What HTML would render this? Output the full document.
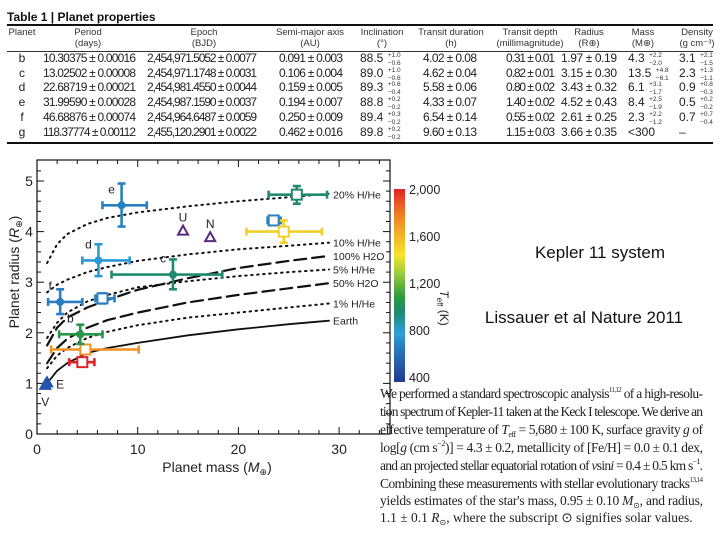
<!DOCTYPE html>
<html><head><meta charset="utf-8"><style>
html,body{margin:0;padding:0;background:#fff;width:720px;height:540px;overflow:hidden}
svg{display:block;font-family:"Liberation Sans",sans-serif}
.tb{font-size:12px;fill:#222}
.th{font-size:9.5px;fill:#333}
.pp{font-family:"Liberation Serif",serif;font-size:13.5px;fill:#222}
</style></head><body>
<svg id="svg" width="720" height="540">
<g id="table">
<text x="7" y="21" font-size="12" font-weight="bold" fill="#111">Table 1 | Planet properties</text>
<rect x="7" y="24" width="706" height="2" fill="#111"/>
<rect x="7" y="51" width="706" height="1" fill="#333"/>
<rect x="7" y="142" width="706" height="2" fill="#111"/>
</g>
<g id="plot"></g>
<text x="600" y="258" font-size="17" text-anchor="middle" fill="#111">Kepler 11 system</text>
<text x="584" y="323" font-size="17" text-anchor="middle" fill="#111">Lissauer et al Nature 2011</text>
<g>
<text class="pp" x="380" y="398" textLength="323" lengthAdjust="spacing">We performed a standard spectroscopic analysis<tspan font-size="7" dy="-6">11,12</tspan><tspan dy="6"> of a high-resolu-</tspan></text>
<text class="pp" x="380" y="416" textLength="323" lengthAdjust="spacing">tion spectrum of Kepler-11 taken at the Keck I telescope. We derive an</text>
<text class="pp" x="380" y="434" textLength="323" lengthAdjust="spacing">effective temperature of <tspan font-style="italic">T</tspan><tspan font-size="8" dy="3">eff</tspan><tspan dy="-3"> = 5,680 ± 100 K, surface gravity </tspan><tspan font-style="italic">g</tspan> of</text>
<text class="pp" x="380" y="452" textLength="323" lengthAdjust="spacing">log[<tspan font-style="italic">g</tspan> (cm s<tspan font-size="8" dy="-6">−2</tspan><tspan dy="6">)] = 4.3 ± 0.2, metallicity of [Fe/H] = 0.0 ± 0.1 dex,</tspan></text>
<text class="pp" x="380" y="470" textLength="323" lengthAdjust="spacing">and an projected stellar equatorial rotation of <tspan font-style="italic">v</tspan>sin<tspan font-style="italic">i</tspan> = 0.4 ± 0.5 km s<tspan font-size="8" dy="-6">−1</tspan><tspan dy="6">.</tspan></text>
<text class="pp" x="380" y="488" textLength="323" lengthAdjust="spacing">Combining these measurements with stellar evolutionary tracks<tspan font-size="7" dy="-6">13,14</tspan></text>
<text class="pp" x="380" y="505" textLength="323" lengthAdjust="spacing">yields estimates of the star's mass, 0.95 ± 0.10 <tspan font-style="italic">M</tspan><tspan font-size="8" dy="3">⊙</tspan><tspan dy="-3">, and radius,</tspan></text>
<text class="pp" x="380" y="522">1.1 ± 0.1 <tspan font-style="italic">R</tspan><tspan font-size="8" dy="3">⊙</tspan><tspan dy="-3">, where the subscript ⊙ signifies solar values.</tspan></text>
</g>
</svg>
<script>
const NS="http://www.w3.org/2000/svg";
function mk(parent,tag,attrs,txt){const e=document.createElementNS(NS,tag);for(const k in attrs)e.setAttribute(k,attrs[k]);if(txt!==undefined)e.textContent=txt;parent.appendChild(e);return e;}

// ---------- table ----------
const tableHeaders=[["Planet",""],["Period","(days)"],["Epoch","(BJD)"],["Semi-major axis","(AU)"],["Inclination","(°)"],["Transit duration","(h)"],["Transit depth","(millimagnitude)"],["Radius","(R⊕)"],["Mass","(M⊕)"],["Density","(g cm⁻³)"]];
const headerX=[22,88,204,310,382,451,530,589,643,697];
const tablePlanets=["b","c","d","e","f","g"];
const tablePeriod=["10.30375 ± 0.00016","13.02502 ± 0.00008","22.68719 ± 0.00021","31.99590 ± 0.00028","46.68876 ± 0.00074","118.37774 ± 0.00112"];
const tableEpoch=["2,454,971.5052 ± 0.0077","2,454,971.1748 ± 0.0031","2,454,981.4550 ± 0.0044","2,454,987.1590 ± 0.0037","2,454,964.6487 ± 0.0059","2,455,120.2901 ± 0.0022"];
const tableAxis=["0.091 ± 0.003","0.106 ± 0.004","0.159 ± 0.005","0.194 ± 0.007","0.250 ± 0.009","0.462 ± 0.016"];
const tableIncl=["88.5","89.0","89.3","88.8","89.4","89.8"];
const inclErr=[["+1.0","−0.6"],["+1.0","−0.6"],["+0.6","−0.4"],["+0.2","−0.2"],["+0.3","−0.2"],["+0.2","−0.2"]];
const tableDur=["4.02 ± 0.08","4.62 ± 0.04","5.58 ± 0.06","4.33 ± 0.07","6.54 ± 0.14","9.60 ± 0.13"];
const tableDepth=["0.31 ± 0.01","0.82 ± 0.01","0.80 ± 0.02","1.40 ± 0.02","0.55 ± 0.02","1.15 ± 0.03"];
const tableRadius=["1.97 ± 0.19","3.15 ± 0.30","3.43 ± 0.32","4.52 ± 0.43","2.61 ± 0.25","3.66 ± 0.35"];
const tableMass=["4.3","13.5","6.1","8.4","2.3","<300"];
const massErr=[["+2.2","−2.0"],["+4.8","−6.1"],["+3.1","−1.7"],["+2.5","−1.9"],["+2.2","−1.2"],null];
const tableDens=["3.1","2.3","0.9","0.5","0.7","–"];
const densErr=[["+2.1","−1.5"],["+1.3","−1.1"],["+0.8","−0.3"],["+0.2","−0.2"],["+0.7","−0.4"],null];
const rowY=[62,77,91,106,121,136];
const tbl=document.getElementById('table');
headerX.forEach((x,i)=>{
  const t=mk(tbl,'text',{x:x,y:35,'text-anchor':'middle',class:'th'},tableHeaders[i][0]);
  
  
  if(tableHeaders[i][1]){const u=mk(tbl,'text',{x:x,y:46,'text-anchor':'middle',class:'th'},tableHeaders[i][1]);
  
  }
});
const cols=[[tablePlanets,22,'middle',0,null],[tablePeriod,43,'start',93,null],[tableEpoch,147,'start',110,null],[tableAxis,279,'start',64,null],[tableIncl,360,'start',0,inclErr],[tableDur,423,'start',54,null],[tableDepth,506,'start',49,null],[tableRadius,561,'start',56,null],[tableMass,628,'start',0,massErr],[tableDens,679,'start',0,densErr]];
cols.forEach(([arr,x,anc,w,err])=>{arr.forEach((v,r)=>{
  const t=mk(tbl,'text',{x:x,y:rowY[r],'text-anchor':anc,class:'tb'},v);
  if(w)t.setAttribute('textLength',w);
  
  
  if(err&&err[r]){
    const ww=w?w+1:(v.length*6.7+1);
    mk(tbl,'text',{x:x+ww,y:rowY[r]-5,'font-size':6.5,fill:'#333'},err[r][0]);
    mk(tbl,'text',{x:x+ww,y:rowY[r]+3,'font-size':6.5,fill:'#333'},err[r][1]);
  }
});});

// ---------- chart ----------
const X0=37,X1=390,Y0=434,Y1=160;
const xScale=m=>X0+m*10.07;
const yScale=r=>Y0-r*50.6;
const xTicks=[0,10,20,30];
const yTicks=[0,1,2,3,4,5];
const tempTicks=[400,800,1200,1600,2000];
const curveMass=[1,2,3,5,7,10,15,20,25,29];
const curveNames=["20% H/He","10% H/He","100% H2O","5% H/He","50% H2O","1% H/He","Earth"];
const curve20=[3.38,3.75,3.95,4.15,4.27,4.38,4.5,4.6,4.68,4.75];
const curve10=[2.8,2.95,3.05,3.2,3.3,3.42,3.55,3.65,3.72,3.78];
const curve100w=[1.75,2.1,2.3,2.5,2.65,2.85,3.08,3.28,3.42,3.52];
const curve5=[1.9,2.2,2.4,2.62,2.75,2.9,3.02,3.12,3.2,3.25];
const curve50w=[1.4,1.7,1.88,2.1,2.25,2.4,2.6,2.75,2.88,2.98];
const curve1=[1.3,1.55,1.7,1.9,2.02,2.15,2.3,2.4,2.5,2.58];
const curveEarth=[1.0,1.25,1.4,1.6,1.7,1.8,1.95,2.07,2.17,2.24];
const curveSeries=[curve20,curve10,curve100w,curve5,curve50w,curve1,curveEarth];
const curveDash=["1.5 4.5","1.5 4.5","12 6","1.5 4.5","12 6","1.5 4.5",""];
const curveWidth=[2,2,2.2,2,2.2,2,1.8];
const curveLabelY=[4.73,3.78,3.52,3.25,2.98,2.58,2.24];
const kepNames=["e","d","c","f","b"];
const kepMass=[8.4,6.1,13.5,2.3,4.3];
const kepMassLo=[6.5,4.5,7.4,1.1,2.2];
const kepMassHi=[10.9,9.2,18.4,4.5,6.5];
const kepRad=[4.52,3.43,3.15,2.61,1.97];
const kepRadLo=[4.1,3.12,2.86,2.37,1.78];
const kepRadHi=[4.95,3.75,3.45,2.86,2.16];
const kepTemp=[700,780,980,690,1080];
const exoMass=[25.8,23.5,24.5,6.5,4.8,4.5];
const exoMassLo=[23.0,22.9,20.8,5.8,1.4,3.2];
const exoMassHi=[28.8,24.2,28.3,7.7,10.1,5.7];
const exoRad=[4.73,4.22,4.0,2.68,1.67,1.42];
const exoRadLo=[4.55,4.15,3.78,2.58,1.6,1.36];
const exoRadHi=[4.9,4.28,4.22,2.78,1.74,1.48];
const exoTemp=[980,700,1520,700,1720,2000];
const ssNames=["U","N","E","V"];
const ssMass=[14.5,17.2,1.0,0.82];
const ssRad=[4.0,3.87,1.0,0.95];

const cstops=[[400,[31,58,147]],[700,[42,127,192]],[800,[42,160,220]],[980,[31,138,112]],[1100,[42,154,64]],[1300,[156,204,58]],[1450,[242,229,41]],[1600,[245,184,42]],[1800,[240,122,32]],[2000,[227,32,42]]];
function tcol(t){for(let i=1;i<cstops.length;i++){if(t<=cstops[i][0]){const a=cstops[i-1],b=cstops[i];const f=(t-a[0])/(b[0]-a[0]);
 const c=a[1].map((v,k)=>Math.round(v+(b[1][k]-v)*f));return `rgb(${c})`;}}return 'rgb(227,32,42)';}

const P=document.getElementById('plot');
mk(P,'rect',{x:X0,y:Y1,width:X1-X0,height:Y0-Y1,fill:'none',stroke:'#111','stroke-width':1.2,});
for(let m=1;m<35;m++){const x=xScale(m);const L=m%10===0?7:(m%2===0?4:0);if(!L)continue;
 mk(P,'line',{x1:x,x2:x,y1:Y0,y2:Y0-L,stroke:'#111'});mk(P,'line',{x1:x,x2:x,y1:Y1,y2:Y1+L,stroke:'#111'});}
for(let k=1;k<27;k++){const r=k*0.2;const y=yScale(r);const L=k%5===0?7:4;
 mk(P,'line',{x1:X0,x2:X0+L,y1:y,y2:y,stroke:'#111'});mk(P,'line',{x1:X1,x2:X1-L,y1:y,y2:y,stroke:'#111'});}
xTicks.forEach(v=>{const t=mk(P,'text',{x:xScale(v),y:454,'font-size':14,'text-anchor':'middle',fill:'#222'},v);
 
 });
yTicks.forEach(v=>{const t=mk(P,'text',{x:29,y:yScale(v)+5,'font-size':14,'text-anchor':'middle',fill:'#222'},v);
 
 });
const xt=mk(P,'text',{x:217,y:472,'font-size':14,'text-anchor':'middle',fill:'#222'});


xt.innerHTML='Planet mass (<tspan font-style="italic">M</tspan><tspan font-size="9" dy="3">⊕</tspan><tspan dy="-3">)</tspan>';
const yt=mk(P,'text',{x:0,y:0,'font-size':14,'text-anchor':'middle',fill:'#222',transform:'translate(19,272) rotate(-90)'});


yt.innerHTML='Planet radius (<tspan font-style="italic">R</tspan><tspan font-size="9" dy="3">⊕</tspan><tspan dy="-3">)</tspan>';

curveSeries.forEach((ser,i)=>{
 const d=ser.map((r,j)=>(j?'L':'M')+xScale(curveMass[j]).toFixed(1)+','+yScale(r).toFixed(1)).join(' ');
 const p=mk(P,'path',{d:d,fill:'none',stroke:'#111','stroke-width':curveWidth[i],'stroke-dasharray':curveDash[i],'stroke-linecap':'round'});
 
 
 const t=mk(P,'text',{x:xScale(29.4),y:yScale(curveLabelY[i])+4,'font-size':10.5,fill:'#222'},curveNames[i]);
 
 
});

function errbar(m,lo,hi,r,rlo,rhi,c){
 const g=mk(P,'g',{stroke:c,'stroke-width':2.6});
 mk(g,'line',{x1:xScale(lo),x2:xScale(hi),y1:yScale(r),y2:yScale(r)});
 mk(g,'line',{x1:xScale(m),x2:xScale(m),y1:yScale(rlo),y2:yScale(rhi)});
 [lo,hi].forEach(v=>mk(g,'line',{x1:xScale(v),x2:xScale(v),y1:yScale(r)-4,y2:yScale(r)+4}));
 [rlo,rhi].forEach(v=>mk(g,'line',{x1:xScale(m)-4,x2:xScale(m)+4,y1:yScale(v),y2:yScale(v)}));
 return g;
}
exoMass.forEach((m,i)=>{const c=tcol(exoTemp[i]);
 const g=errbar(m,exoMassLo[i],exoMassHi[i],exoRad[i],exoRadLo[i],exoRadHi[i],c);
 
 
 mk(g,'rect',{x:xScale(m)-5,y:yScale(exoRad[i])-5,width:10,height:10,fill:'#fff','stroke-width':2});
});
kepMass.forEach((m,i)=>{const c=tcol(kepTemp[i]);
 const g=errbar(m,kepMassLo[i],kepMassHi[i],kepRad[i],kepRadLo[i],kepRadHi[i],c);
 
 
 mk(g,'circle',{cx:xScale(m),cy:yScale(kepRad[i]),r:4,fill:c,stroke:'none'});
 mk(P,'text',{x:xScale(m)-10,y:yScale(kepRad[i])-12,'font-size':12,fill:'#222','text-anchor':'middle'},kepNames[i]);
});
ssMass.forEach((m,i)=>{const x=xScale(m),y=yScale(ssRad[i]);const filled=i>=2;
 const p=mk(P,'path',{d:`M${x},${y-6}L${x+5},${y+3}L${x-5},${y+3}Z`,fill:filled?'#2255aa':'#fff',stroke:filled?'#2255aa':'#5a2a7a','stroke-width':2});
 
 
 const lx=i===2?x+9:x;const ly=i===2?y+5:(i===3?y+20:y-10);
 mk(P,'text',{x:lx,y:ly,'font-size':12,fill:'#222','text-anchor':i===2?'start':'middle'},ssNames[i]);
});

const CB=mk(P,'g',{});


const defs=mk(document.getElementById('svg'),'defs',{});
const lg=mk(defs,'linearGradient',{id:'cbg',x1:0,y1:1,x2:0,y2:0});
cstops.forEach(s=>mk(lg,'stop',{offset:((s[0]-400)/1600).toFixed(3),'stop-color':`rgb(${s[1]})`}));
const cTop=189,cBot=382;const tY=t=>cTop+(2000-t)/1600*(377-cTop);
mk(CB,'rect',{x:394,y:cTop,width:11,height:cBot-cTop,fill:'url(#cbg)'});
tempTicks.forEach(t=>{const lab=mk(CB,'text',{x:409,y:tY(t)+5,'font-size':12.5,fill:'#222'},t.toLocaleString('en-US'));
 
 });
const ct=mk(CB,'text',{x:0,y:0,'font-size':12,fill:'#222','text-anchor':'middle',transform:'translate(440,308) rotate(90)'});
ct.innerHTML='<tspan font-style="italic">T</tspan><tspan font-size="8" dy="3">eff</tspan><tspan dy="-3"> (K)</tspan>';
</script>
</body></html>
